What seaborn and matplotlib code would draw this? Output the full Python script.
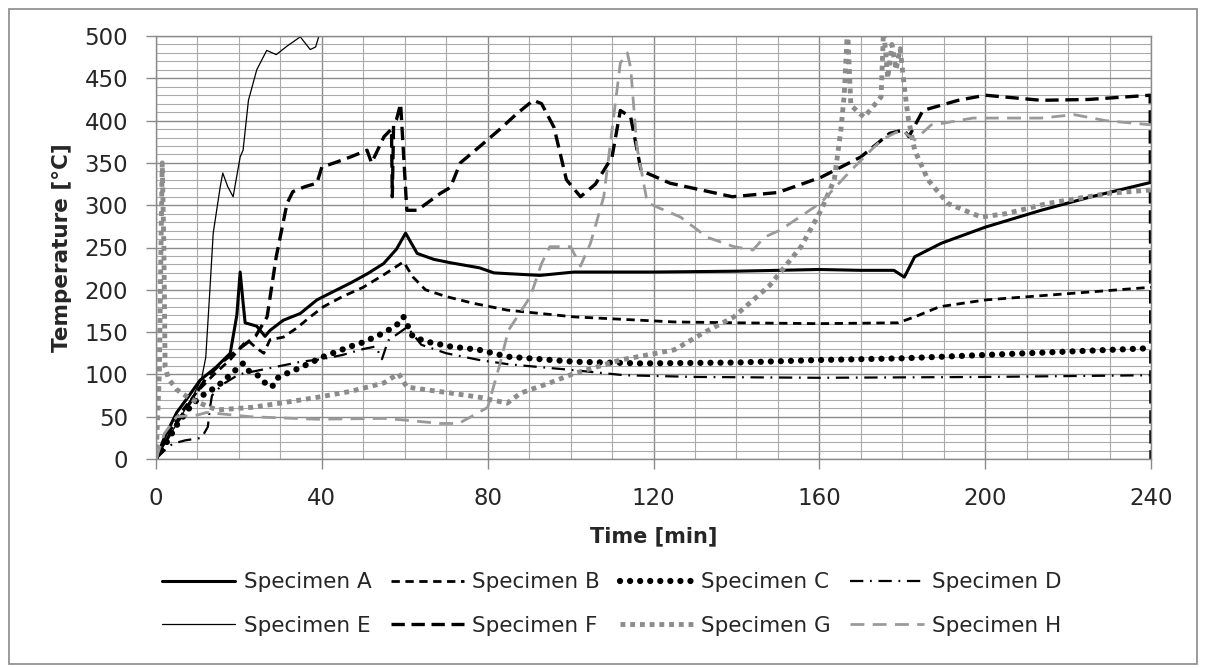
import seaborn as sns
import matplotlib.pyplot as plt
from matplotlib.patches import Rectangle
from matplotlib.ticker import MultipleLocator

# time [min] and temperature [C], one pair of lists per specimen
t_a = [0, 2, 5, 8, 10.6, 14.6, 17.9, 19.5, 20.3, 21, 21.5, 24.3, 26.3, 27.5, 30.7, 34.8, 38.8, 42, 46.9, 51,
       54.9, 58, 60.2, 63, 67, 71, 78, 81.5, 92.6, 100.8, 120, 140, 160, 170, 178, 180.5, 183, 189.4, 200,
       213.5, 225.6, 240]
temp_a = [0, 25, 55, 75, 93, 109, 125, 170, 221, 185, 161, 157, 145, 152, 164, 172, 188, 196, 208, 219,
          231, 248, 267, 243, 236, 232, 226, 220, 217, 221, 221, 222, 224, 223, 223, 215, 239, 255, 274,
          294, 310, 327]

t_b = [0, 3, 6, 10, 14, 18, 22, 24, 26, 27.5, 30.7, 34, 37.2, 40.4, 45, 50, 55, 59.7, 62, 65, 70, 76.6,
       84.7, 100.8, 125, 140, 160, 179, 183, 189, 200, 221.5, 240]
temp_b = [0, 30, 55, 80, 100, 118, 141, 132, 125, 141, 144, 155, 168, 180, 192, 203, 218, 233, 215, 200,
          192, 184, 176, 168, 162, 161, 160, 161, 168, 180, 188, 196, 203]

t_c = [0, 2, 5, 8, 9.9, 12, 14.6, 18, 21, 22, 24.3, 26.3, 28, 29, 31, 34.8, 40.4, 46.9, 50, 54.9, 58,
       59.7, 62, 66, 71, 78, 84.7, 100.8, 117, 140, 160, 180, 200, 220, 240]
temp_c = [0, 15, 40, 60, 70, 78, 85, 100, 113, 105, 100, 90, 85, 95, 100, 108, 121, 133, 138, 149, 158,
          168, 144, 138, 133, 129, 121, 115, 113, 114, 117, 119, 123, 127, 131]

t_d = [0, 2, 4, 7, 11, 12.5, 13, 13.5, 16, 20, 25, 30, 35, 40, 45, 50, 53, 54.5, 56, 60.6, 64, 70, 78,
       85, 100.8, 113, 130, 160, 200, 240]
temp_d = [0, 10, 18, 22, 25, 38, 60, 75, 88, 100, 105, 110, 115, 118, 123, 130, 133, 118, 140, 156, 135,
          125, 117, 112, 105, 99, 97, 96, 97, 99]

t_e = [0, 3, 6, 9, 11, 12, 13, 13.8, 15.5, 16.1, 17.3, 18.6, 20.3, 21, 22.3, 24.3, 26.7, 29, 31.6, 34.8,
       37.2, 38.5, 39.6]
temp_e = [0, 25, 50, 75, 95, 120, 200, 267, 322, 338, 322, 310, 357, 365, 424, 460, 483, 478, 488, 499,
          484, 487, 505]

t_f = [0, 4, 8, 12, 16, 20, 24, 26.8, 29, 31.6, 33, 36, 38.8, 40, 43, 46.9, 50.9, 52, 55, 56.8, 57, 57.3,
       58, 59, 60.5, 63, 68.6, 71, 73.4, 78, 83, 87, 91, 93, 96, 99, 102.4, 106, 110, 112, 114.5, 117,
       124, 139, 150, 160.4, 170, 177, 180.4, 181.6, 185, 193.5, 200, 213.5, 225, 239.8, 240]
temp_f = [0, 35, 65, 95, 115, 130, 145, 168, 239, 302, 316, 322, 326, 345, 350, 357, 365, 350, 381, 390,
          310, 395, 401, 420, 294, 294, 314, 321, 350, 369, 390, 408, 424, 420, 392, 330, 310, 325, 357,
          412, 404, 341, 326, 310, 315, 333, 357, 385, 389, 381, 412, 424, 430, 424, 425, 430, 0]

t_g = [0, 0.8, 1.2, 1.5, 1.9, 2.2, 3, 5, 8, 10.6, 14.7, 23, 30, 39, 47, 55, 58.5, 60.5, 65, 71, 78, 84.7,
       88, 95, 100.8, 112, 125, 132, 139.4, 148, 155.6, 160.4, 163.6, 165.2, 166, 166.8, 167.6, 170.8,
       174.9, 175.5, 176.5, 177.5, 178.5, 179.5, 180.5, 181.4, 183, 186.2, 191, 199, 205, 215, 229.7, 240]
temp_g = [0, 100, 250, 350, 250, 109, 95, 82, 72, 66, 58, 61, 66, 73, 80, 90, 101, 85, 82, 78, 73, 66,
          78, 90, 101, 117, 129, 149, 168, 205, 251, 294, 330, 389, 430, 510, 418, 404, 428, 510, 450,
          490, 460, 485, 440, 404, 365, 330, 302, 286, 290, 302, 314, 318]

t_h = [0, 2, 5, 10, 12.2, 22.7, 38.8, 55, 60, 68.6, 73, 76, 80, 83, 85, 90.3, 93, 95, 100, 102.4, 104.8,
       108, 110, 112, 113.7, 114.5, 116, 118.5, 121.7, 126.5, 133, 139.4, 144, 146.7, 150.7, 160.4, 167.6,
       174.9, 179.7, 183, 187, 190, 197, 213.5, 221.5, 229, 240]
temp_h = [0, 30, 50, 52, 55, 50, 47, 48, 46, 42, 42, 50, 61, 113, 152, 192, 231, 251, 251, 228, 255, 310,
          389, 468, 480, 462, 369, 303, 296, 286, 262, 251, 247, 262, 271, 303, 341, 377, 389, 377, 395,
          397, 403, 403, 407, 400, 395]

series = [
    ('Specimen A', t_a, temp_a, dict(color='black', lw=2.2, linestyle='-')),
    ('Specimen B', t_b, temp_b, dict(color='black', lw=2.0, linestyle=(0, (3, 2)))),
    ('Specimen C', t_c, temp_c, dict(color='black', lw=4.5, linestyle=(0, (0.01, 1.6)),
                                     dash_capstyle='round')),
    ('Specimen D', t_d, temp_d, dict(color='black', lw=1.6, linestyle=(0, (6, 3, 0.8, 3)))),
    ('Specimen E', t_e, temp_e, dict(color='black', lw=0.9, linestyle='-')),
    ('Specimen F', t_f, temp_f, dict(color='black', lw=2.4, linestyle=(0, (4, 2)))),
    ('Specimen G', t_g, temp_g, dict(color='#8c8c8c', lw=3.5, linestyle=(0, (1, 1)))),
    ('Specimen H', t_h, temp_h, dict(color='#9a9a9a', lw=2.0, linestyle=(0, (5, 3)))),
]

sns.set_style('white')
plt.rcParams['font.family'] = ['DejaVu Sans']

fig = plt.figure(figsize=(12.05, 6.68), dpi=100)
ax = fig.add_axes([156 / 1205, 1 - 459 / 668, 995 / 1205, 423 / 668])

lines = {}
for name, t, temp, style in series:
    sns.lineplot(x=t, y=temp, ax=ax, estimator=None, sort=False, label=name, **style)
    lines[name] = ax.get_lines()[-1]

ax.set_xlim(0, 240)
ax.set_ylim(0, 500)
ax.xaxis.set_major_locator(MultipleLocator(40))
ax.xaxis.set_minor_locator(MultipleLocator(10))
ax.yaxis.set_major_locator(MultipleLocator(50))
ax.yaxis.set_minor_locator(MultipleLocator(10))
ax.grid(which='major', color='#8a8a8a', lw=1.0)
ax.grid(which='minor', color='#aaaaaa', lw=0.8)
ax.set_axisbelow(True)
for s in ax.spines.values():
    s.set_color('#8a8a8a')
    s.set_linewidth(1.0)
ax.tick_params(which='major', length=7, width=1, color='#8a8a8a', labelsize=16.5, pad=13,
               left=True, bottom=True, labelcolor='#262626')
ax.tick_params(which='minor', length=0)

ax.set_xlabel('Time [min]', fontsize=15, fontweight='bold', labelpad=12)
ax.set_ylabel('Temperature [°C]', fontsize=15.5, fontweight='bold', labelpad=9)

order = ['Specimen A', 'Specimen E', 'Specimen B', 'Specimen F',
         'Specimen C', 'Specimen G', 'Specimen D', 'Specimen H']
ax.legend([lines[n] for n in order], order, ncol=4, loc='upper center',
          bbox_to_anchor=(0.458, -0.222), frameon=False, fontsize=15.5,
          handlelength=3.4, handletextpad=0.4, columnspacing=0.9, labelspacing=1.1)

fig.patches.append(Rectangle((9 / 1205, 4 / 668), 1188 / 1205, 655 / 668, transform=fig.transFigure,
                             fill=False, edgecolor='#8a8a8a', lw=1.2))

fig.savefig('out.png', dpi=100)
